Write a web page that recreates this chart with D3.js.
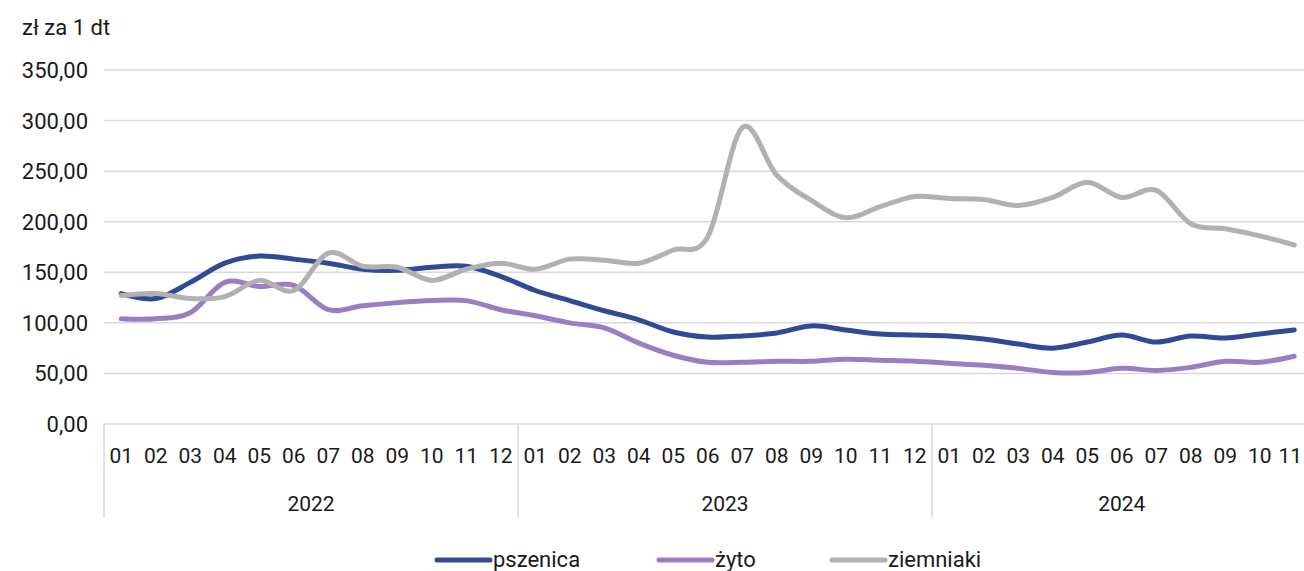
<!DOCTYPE html>
<html>
<head>
<meta charset="utf-8">
<script src="https://cdn.jsdelivr.net/npm/d3@7"></script>
<style>
  body { margin: 0; background: #fff; }
  svg { display: block; font-family: Roboto, "Noto Sans", sans-serif; }
</style>
</head>
<body>
<div id="grafik"></div>
<script>
const years = ["2022", "2023", "2024"];
const monthsPerYear = [12, 12, 11];
const months = ["01","02","03","04","05","06","07","08","09","10","11","12",
                "01","02","03","04","05","06","07","08","09","10","11","12",
                "01","02","03","04","05","06","07","08","09","10","11"];

const pszenica = [129, 124, 140, 159, 166, 163, 159, 153, 152, 155, 156, 146,
                  132, 122, 112, 103, 91, 86, 87, 90, 97, 93, 89, 88,
                  87, 84, 79, 75, 81, 88, 81, 87, 85, 89, 93];
const zyto = [104, 104, 110, 140, 136, 137, 113, 117, 120, 122, 122, 113,
              107, 100, 95, 80, 68, 61, 61, 62, 62, 64, 63, 62,
              60, 58, 55, 51, 51, 55, 53, 56, 62, 61, 67];
const ziemniaki = [127, 129, 124, 126, 142, 132, 169, 156, 155, 142, 153, 159,
                   153, 163, 162, 159, 172, 185, 293, 246, 221, 204, 215, 225,
                   223, 222, 216, 224, 239, 224, 231, 198, 193, 186, 177];

const seriesNames = ["pszenica", "żyto", "ziemniaki"];
const seriesData = [pszenica, zyto, ziemniaki];
const colors = ["#2f4b94", "#9a7ec3", "#b1b1b1"];

const yTicks = [0, 50, 100, 150, 200, 250, 300, 350];

const W = 1304, H = 571;
const plotLeft = 104, plotRight = 1311.5, plotTop = 70, zeroY = 424;

const svg = d3.select("#grafik").append("svg")
  .attr("width", W).attr("height", H);

const idx = d3.range(months.length);
const x = d3.scaleBand().domain(idx).range([plotLeft, plotRight]).padding(0);
const y = d3.scaleLinear().domain([0, 350]).range([zeroY, plotTop]);

const fmt = v => d3.format(".2f")(v).replace(".", ",");

// siatka
svg.append("g")
  .selectAll("line")
  .data(yTicks)
  .enter().append("line")
  .attr("x1", plotLeft).attr("x2", W)
  .attr("y1", d => y(d)).attr("y2", d => y(d))
  .attr("stroke", "#d9d9d9")
  .attr("stroke-width", 1.5);

svg.append("g")
  .selectAll("text")
  .data(yTicks)
  .enter().append("text")
  .attr("x", 88)
  .attr("y", d => y(d) + 8)
  .attr("text-anchor", "end")
  .style("font-size", "22px")
  .attr("fill", "#1a1a1a")
  .text(d => fmt(d));

svg.append("text")
  .attr("x", 22).attr("y", 35)
  .style("font-size", "22px")
  .attr("fill", "#1a1a1a")
  .text("zł za 1 dt");

// oś x - miesiące
svg.append("g")
  .selectAll("text")
  .data(idx)
  .enter().append("text")
  .attr("x", d => x(d) + x.bandwidth() / 2)
  .attr("y", 463)
  .attr("text-anchor", "middle")
  .style("font-size", "21px")
  .attr("fill", "#1a1a1a")
  .text(d => months[d])
  .each(function() {
    // ostatnia etykieta nie może wyjść poza krawędź
    const b = this.getBBox();
    if (b.x + b.width > W - 2) {
      d3.select(this).attr("text-anchor", "end").attr("x", W - 2);
    }
  });

// lata
let start = 0;
const yearPos = years.map((yr, i) => {
  const s = start;
  start += monthsPerYear[i];
  return { yr, s, e: start };
});
const edge = i => i < months.length ? x(i) : plotRight;

svg.append("g")
  .selectAll("line")
  .data([0, ...yearPos.map(d => d.e)])
  .enter().append("line")
  .attr("x1", d => edge(d))
  .attr("x2", d => edge(d))
  .attr("y1", zeroY).attr("y2", 518)
  .attr("stroke", "#d9d9d9")
  .attr("stroke-width", 1.5);

svg.append("g")
  .selectAll("text")
  .data(yearPos)
  .enter().append("text")
  .attr("x", d => (edge(d.s) + edge(d.e)) / 2)
  .attr("y", 511)
  .attr("text-anchor", "middle")
  .style("font-size", "21px")
  .attr("fill", "#1a1a1a")
  .text(d => d.yr);

// linie
const line = d3.line()
  .x((d, i) => x(i) + x.bandwidth() / 2)
  .y(d => y(d))
  .curve(d3.curveCatmullRom.alpha(0));

svg.append("g")
  .selectAll("path")
  .data(seriesData)
  .enter().append("path")
  .attr("d", d => line(d))
  .attr("fill", "none")
  .attr("stroke", (d, i) => colors[i])
  .attr("stroke-width", 5)
  .attr("stroke-linecap", "round")
  .attr("stroke-linejoin", "round");

// legenda
const legendX = [435, 657, 830];
const legend = svg.append("g")
  .selectAll("g")
  .data(seriesNames)
  .enter().append("g")
  .attr("transform", (d, i) => `translate(${legendX[i]},560)`);

legend.append("line")
  .attr("x1", 2).attr("x2", 55)
  .attr("stroke", (d, i) => colors[i])
  .attr("stroke-width", 5)
  .attr("stroke-linecap", "round");

legend.append("text")
  .attr("x", 58).attr("y", 7)
  .style("font-size", "22px")
  .attr("fill", "#1a1a1a")
  .text(d => d);
</script>
</body>
</html>
